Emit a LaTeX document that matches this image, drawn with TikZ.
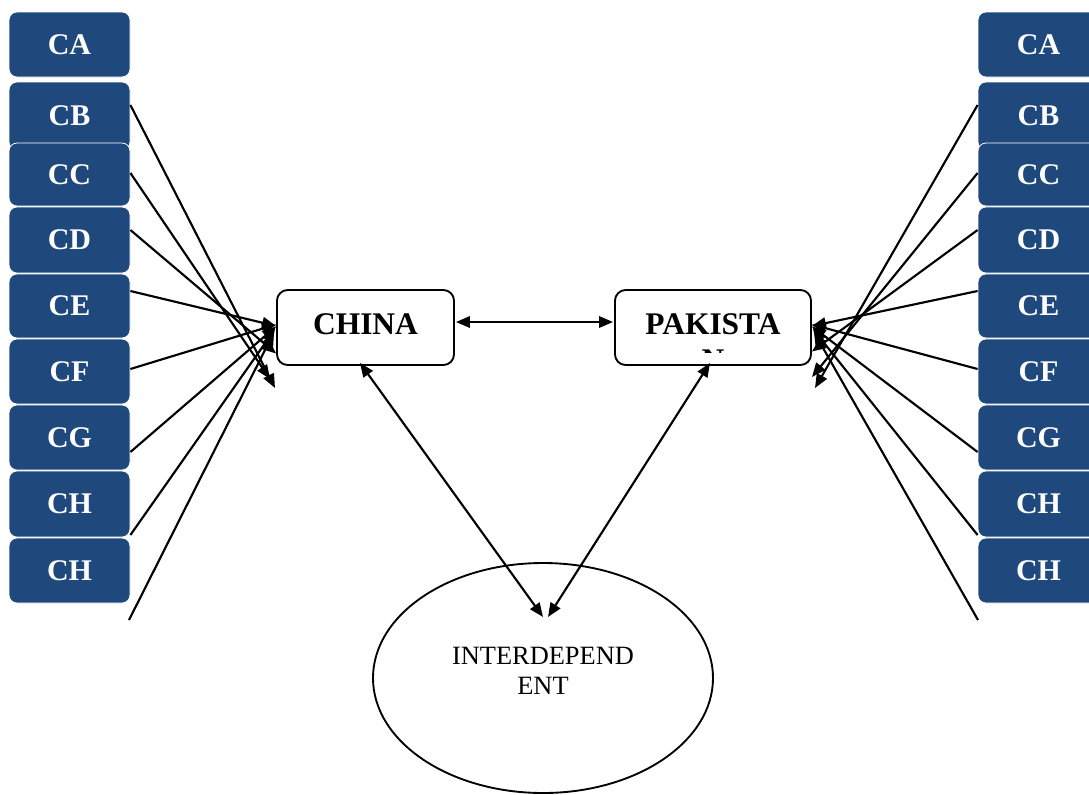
\documentclass[tikz,border=0pt]{standalone}
\usepackage{fontspec}
\setmainfont{Liberation Serif}
\usetikzlibrary{arrows.meta,calc,shapes.geometric}
\definecolor{boxblue}{HTML}{1F497D}
\begin{document}
\begin{tikzpicture}[x=0.75pt,y=-0.75pt,
  cbox/.style={draw=white, line width=0.6pt, fill=boxblue, rounded corners=6pt,
    minimum width=90.75pt, text=white, inner sep=0pt,
    font=\fontsize{22.5}{26}\selectfont\bfseries},
  mainbox/.style={draw=black, line width=1.4pt, rounded corners=8pt, fill=white,
    minimum height=56.25pt, inner sep=0pt, text height=15.6pt, text depth=4.5pt,
    font=\fontsize{23.6}{27}\selectfont\bfseries},
  link/.style={line width=1.6pt, -{Triangle[length=10.5pt,width=8.5pt]}},
  dlink/.style={line width=1.6pt, {Triangle[length=10.5pt,width=8.5pt]}-{Triangle[length=10.5pt,width=8.5pt]}},
]
\useasboundingbox (0,0) rectangle (1089,794);
\clip (0,0) rectangle (1089,794);

% left column
\node[cbox, minimum height=48.75pt] (L1) at (69.5,44.5) {CA};
\node[cbox, minimum height=51pt]    (L2) at (69.5,116) {CB};
\node[cbox, minimum height=47.25pt] (L3) at (69.5,174.5) {CC};
\node[cbox, minimum height=49.5pt]  (L4) at (69.5,240) {CD};
\node[cbox, minimum height=48pt]    (L5) at (69.5,306) {CE};
\node[cbox, minimum height=48.75pt] (L6) at (69.5,371.5) {CF};
\node[cbox, minimum height=48.75pt] (L7) at (69.5,437.5) {CG};
\node[cbox, minimum height=49.5pt]  (L8) at (69.5,504) {CH};
\node[cbox, minimum height=48.75pt] (L9) at (69.5,570.5) {CH};

% right column
\node[cbox, minimum height=48.75pt] (R1) at (1038.5,44.5) {CA};
\node[cbox, minimum height=51pt]    (R2) at (1038.5,116) {CB};
\node[cbox, minimum height=47.25pt] (R3) at (1038.5,174.5) {CC};
\node[cbox, minimum height=49.5pt]  (R4) at (1038.5,240) {CD};
\node[cbox, minimum height=48pt]    (R5) at (1038.5,306) {CE};
\node[cbox, minimum height=48.75pt] (R6) at (1038.5,371.5) {CF};
\node[cbox, minimum height=48.75pt] (R7) at (1038.5,437.5) {CG};
\node[cbox, minimum height=49.5pt]  (R8) at (1038.5,504) {CH};
\node[cbox, minimum height=48.75pt] (R9) at (1038.5,570.5) {CH};

% main boxes
\node[mainbox, minimum width=132.75pt] (CH) at (365.5,327.5) {CHINA};
\node[mainbox, minimum width=147pt] (PK) at (713,327.5) {PAKISTA};
\begin{scope}
  \clip (615,290) rectangle (811,352);
  \node[inner sep=0pt, font=\fontsize{23.6}{27}\selectfont\bfseries] (PKn) at (713,360) {N};
\end{scope}

% ellipse
\node[ellipse, draw, line width=1.4pt, minimum width=255pt, minimum height=172.5pt, inner sep=0pt] (EL) at (543,678) {};
\node[align=center, inner sep=0pt, font=\fontsize{19.8}{22.5}\selectfont] (ELt) at (543,671) {INTERDEPEND\\ENT};

% free ends
\coordinate (Lx) at (129,620);
\coordinate (Rx) at (978,620);
\coordinate (a1) at (275,388);
\coordinate (a2) at (270,379);
\coordinate (b1) at (815,388);
\coordinate (b2) at (812,377);

% left links
\draw[link] ($(L2.east)+(0,-11)$) -- (a1);
\draw[link] ($(L3.east)+(0,-1.5)$) -- (a2);
\draw[link] ($(L4.east)+(0,-10)$) -- ($(CH.west)+(0,26)$);
\draw[link] ($(L5.east)+(0,-15)$) -- ($(CH.west)+(0,-1.5)$);
\draw[link] ($(L6.east)+(0,-2.5)$) -- ($(CH.west)+(0,-3)$);
\draw[link] ($(L7.east)+(0,14.5)$) -- ($(CH.west)+(0,-1)$);
\draw[link] ($(L8.east)+(0,31)$) -- ($(CH.west)+(-1,1.5)$);
\draw[link] (Lx) -- ($(CH.west)+(-2,4.5)$);

% right links
\draw[link] ($(R2.west)+(0,-11)$) -- (b1);
\draw[link] ($(R3.west)+(0,-1.5)$) -- (b2);
\draw[link] ($(R4.west)+(0,-10)$) -- ($(PK.east)+(0,24)$);
\draw[link] ($(R5.west)+(0,-15)$) -- ($(PK.east)+(0,-1.5)$);
\draw[link] ($(R6.west)+(0,-2.5)$) -- ($(PK.east)+(0,-3)$);
\draw[link] ($(R7.west)+(0,14.5)$) -- ($(PK.east)+(0,-1)$);
\draw[link] ($(R8.west)+(0,31)$) -- ($(PK.east)+(1,1.5)$);
\draw[link] (Rx) -- ($(PK.east)+(2,4.5)$);

% central links
\draw[dlink] ($(CH.east)+(1,-5.5)$) -- ($(PK.west)+(-1,-5.5)$);
\draw[dlink] ($(CH.south)+(-5.5,-3)$) -- ($(EL.center)+(0,-61)$);
\draw[dlink] ($(PK.south)+(-3,-3)$) -- ($(EL.center)+(5,-61)$);
\end{tikzpicture}
\end{document}
